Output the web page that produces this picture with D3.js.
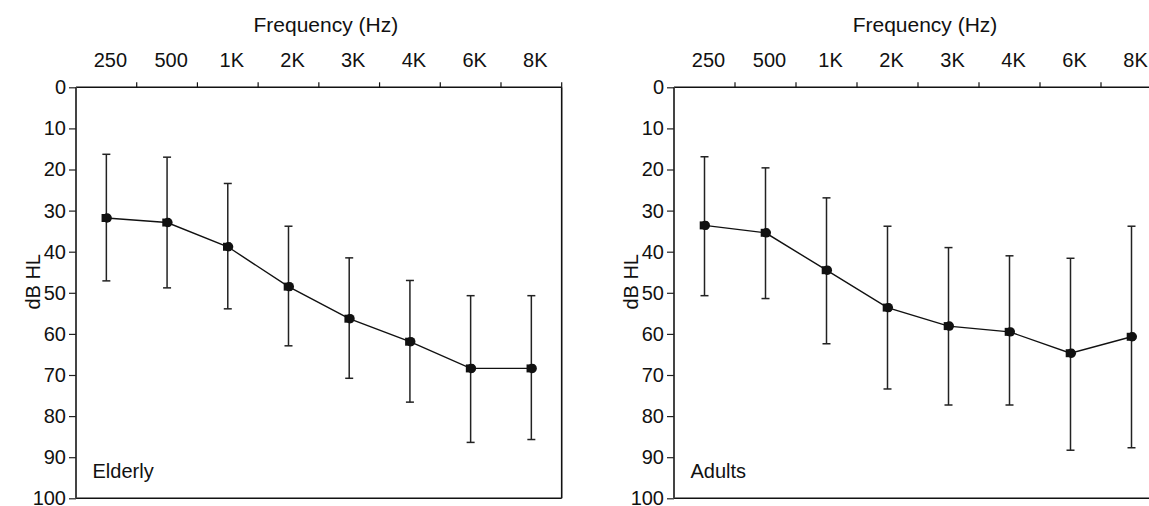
<!DOCTYPE html>
<html>
<head>
<meta charset="utf-8">
<script src="https://cdn.jsdelivr.net/npm/d3@7"></script>
<style>
  html, body { margin: 0; padding: 0; background: #fff; }
  svg { display: block; }
  text { font-family: "Liberation Sans", Arial, sans-serif; fill: #111; }
</style>
</head>
<body>
<svg id="chart" width="1149" height="506"></svg>
<script>
const categories = ["250", "500", "1K", "2K", "3K", "4K", "6K", "8K"];
const yTicks = [0, 10, 20, 30, 40, 50, 60, 70, 80, 90, 100];

const elderlyMean  = [31.8, 32.9, 38.8, 48.5, 56.3, 61.9, 68.4, 68.4];
const elderlyHigh  = [16.3, 17.0, 23.4, 33.8, 41.5, 47.0, 50.7, 50.7];
const elderlyLow   = [47.1, 48.8, 53.9, 62.9, 70.8, 76.6, 86.4, 85.7];

const adultsMean   = [33.6, 35.4, 44.5, 53.6, 58.1, 59.5, 64.7, 60.7];
const adultsHigh   = [16.9, 19.6, 26.9, 33.8, 39.0, 41.0, 41.6, 33.8];
const adultsLow    = [50.7, 51.4, 62.4, 73.4, 77.3, 77.3, 88.3, 87.7];

const panels = [
  { label: "Elderly", mean: elderlyMean, high: elderlyHigh, low: elderlyLow, x0: 76, x1: 561.7 },
  { label: "Adults",  mean: adultsMean,  high: adultsHigh,  low: adultsLow,  x0: 674, x1: 1162 }
];

const svg = d3.select("#chart");
svg.append("rect").attr("width", 1149).attr("height", 506).attr("fill", "#fff");

const yTop = 87.3, yBot = 498.3;
const y = d3.scaleLinear().domain([0, 100]).range([yTop, yBot]);

panels.forEach(p => {
  const x = d3.scaleBand().domain(categories).range([p.x0, p.x1]).padding(0);
  const g = svg.append("g");
  const cx = c => x(c) + x.bandwidth() / 2;

  // frame
  g.append("line").attr("x1", p.x0).attr("x2", p.x1).attr("y1", yTop).attr("y2", yTop)
    .attr("stroke", "#111").attr("stroke-width", 1.5);
  g.append("line").attr("x1", p.x0).attr("x2", p.x1).attr("y1", yBot).attr("y2", yBot)
    .attr("stroke", "#111").attr("stroke-width", 1.5);
  g.append("line").attr("x1", p.x0).attr("x2", p.x0).attr("y1", yTop).attr("y2", yBot)
    .attr("stroke", "#444").attr("stroke-width", 2);
  g.append("line").attr("x1", p.x1).attr("x2", p.x1).attr("y1", yTop).attr("y2", yBot)
    .attr("stroke", "#111").attr("stroke-width", 1.6);

  // top axis: labels
  const topAxis = d3.axisTop(x).tickSizeInner(0).tickSizeOuter(0).tickPadding(20.6);
  const ta = g.append("g").attr("transform", `translate(0,${yTop})`).call(topAxis);
  ta.select(".domain").remove();
  ta.selectAll("text").attr("font-size", 20).attr("dx", 4)
    .attr("font-family", "Liberation Sans, Arial, sans-serif").attr("fill", "#111");

  // top axis: boundary ticks
  g.selectAll(".btick").data(categories).join("line")
    .attr("x1", c => x(c) + x.bandwidth()).attr("x2", c => x(c) + x.bandwidth())
    .attr("y1", yTop).attr("y2", yTop - 5)
    .attr("stroke", "#111").attr("stroke-width", 1.2);

  // left axis
  const leftAxis = d3.axisLeft(y).tickValues(yTicks).tickSize(7).tickPadding(3).tickFormat(d3.format("d"));
  const la = g.append("g").attr("transform", `translate(${p.x0},0)`).call(leftAxis);
  la.select(".domain").remove();
  la.selectAll("line").attr("stroke", "#222").attr("stroke-width", 1.2);
  la.selectAll("text").attr("font-size", 20)
    .attr("font-family", "Liberation Sans, Arial, sans-serif").attr("fill", "#111");

  // titles
  g.append("text").attr("x", (p.x0 + p.x1) / 2 + 7).attr("y", 32)
    .attr("text-anchor", "middle").attr("font-size", 21).text("Frequency (Hz)");
  g.append("text")
    .attr("transform", `translate(${p.x0 - 36},${(yTop + yBot) / 2 - 11}) rotate(-90)`)
    .attr("text-anchor", "middle").attr("font-size", 20).text("dB HL");
  g.append("text").attr("x", p.x0 + 16.5).attr("y", 478).attr("font-size", 20).text(p.label);

  // error bars
  const eb = g.selectAll(".eb").data(categories).join("g");
  eb.append("line")
    .attr("x1", (c) => cx(c)).attr("x2", (c) => cx(c))
    .attr("y1", (c, i) => y(p.high[i])).attr("y2", (c, i) => y(p.low[i]))
    .attr("stroke", "#222").attr("stroke-width", 1.5);
  eb.append("line")
    .attr("x1", c => cx(c) - 4).attr("x2", c => cx(c) + 4)
    .attr("y1", (c, i) => y(p.high[i])).attr("y2", (c, i) => y(p.high[i]))
    .attr("stroke", "#222").attr("stroke-width", 1.5);
  eb.append("line")
    .attr("x1", c => cx(c) - 4).attr("x2", c => cx(c) + 4)
    .attr("y1", (c, i) => y(p.low[i])).attr("y2", (c, i) => y(p.low[i]))
    .attr("stroke", "#222").attr("stroke-width", 1.5);

  // mean line
  const line = d3.line().x(d => cx(d.c)).y(d => y(d.v));
  const pts = categories.map((c, i) => ({ c, v: p.mean[i] }));
  g.append("path").datum(pts).attr("d", line)
    .attr("fill", "none").attr("stroke", "#111").attr("stroke-width", 1.4);

  // markers
  const sq = d3.symbol().type(d3.symbolSquare).size(64);
  const ci = d3.symbol().type(d3.symbolCircle).size(70);
  g.selectAll(".msq").data(pts).join("path")
    .attr("transform", d => `translate(${cx(d.c) - 0.8},${y(d.v)})`)
    .attr("d", sq).attr("fill", "#111");
  g.selectAll(".mci").data(pts).join("path")
    .attr("transform", d => `translate(${cx(d.c) + 0.8},${y(d.v)})`)
    .attr("d", ci).attr("fill", "#111");
});
</script>
</body>
</html>
